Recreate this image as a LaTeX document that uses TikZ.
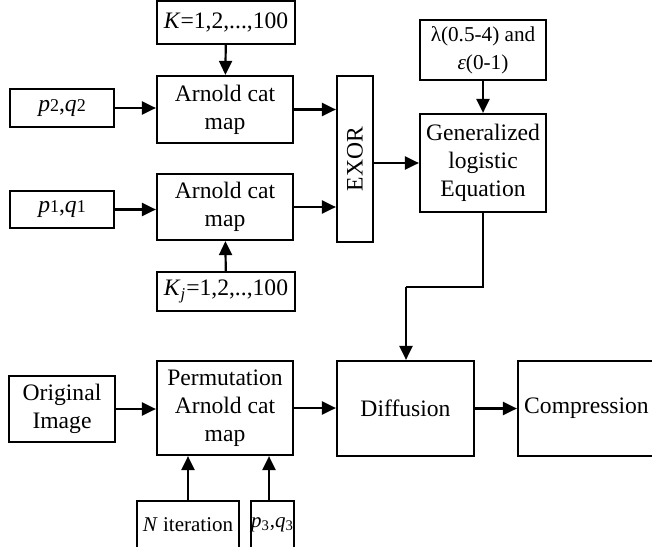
\documentclass[tikz,border=0pt]{standalone}
\usepackage{fontspec}
\setmainfont{Liberation Serif}
\usetikzlibrary{arrows.meta}
\begin{document}
\begin{tikzpicture}[x=0.5pt,y=-0.5pt,
  box/.style={draw,line width=1.1pt,inner sep=0pt,align=center,font=\fontsize{11.8}{14}\selectfont},
  arr/.style={line width=1.1pt,-{Triangle[length=7pt,width=6.5pt]}},
  ln/.style={line width=1.1pt}]
\useasboundingbox (0,0) rectangle (652,546);
\clip (0,0) rectangle (652,546);
\node[box,minimum width=69pt,minimum height=21.5pt] (K) at (226,22.5) {\textit{K}=1,2,...,100};
\node[box,minimum width=68pt,minimum height=33.5pt] (A2) at (225,109.5) {Arnold cat\\map};
\node[box,minimum width=52pt,minimum height=19pt] (p2) at (62,108) {\textit{p}{\fontsize{9}{9}\selectfont 2},\textit{q}{\fontsize{9}{9}\selectfont 2}};
\node[box,minimum width=68pt,minimum height=33pt] (A1) at (225,207) {Arnold cat\\map};
\node[box,minimum width=52pt,minimum height=18.5pt] (p1) at (62,209.5) {\textit{p}{\fontsize{9}{9}\selectfont 1},\textit{q}{\fontsize{9}{9}\selectfont 1}};
\node[box,minimum width=69pt,minimum height=19.5pt] (Kj) at (226,291.5) {\textit{K}\textsubscript{\textit{j}}=1,2,..,100};
\node[box,minimum width=18pt,minimum height=83pt] (EX) at (355,159) {};
\node[font=\fontsize{11.8}{14}\selectfont,rotate=90] (EXt) at (EX.center) {EXOR};
\node[box,minimum width=63pt,minimum height=30pt,font=\fontsize{10.6}{14}\selectfont] (lam) at (483,50) {λ(0.5-4) and\\\textit{ε}(0-1)};
\node[box,minimum width=63pt,minimum height=49pt] (Gen) at (483,163) {Generalized\\logistic\\Equation};
\node[box,minimum width=53pt,minimum height=33pt] (Orig) at (62,409) {Original\\Image};
\node[box,minimum width=68pt,minimum height=47pt] (Perm) at (225,408) {Permutation\\Arnold cat\\map};
\node[box,minimum width=68.5pt,minimum height=47.5pt] (Diff) at (405.5,408.5) {Diffusion};
\node[box,minimum width=68.5pt,minimum height=47.5pt] (Comp) at (586.5,408.5) {Compression};
\node[box,minimum width=51pt,minimum height=23.5pt,font=\fontsize{10.5}{12}\selectfont] (Nit) at (188,524.5) {\textit{N} iteration};
\node[box,minimum width=21.5pt,minimum height=23.5pt,font=\fontsize{10.5}{12}\selectfont] (p3) at (272.5,524.5) {\textit{p}\textsubscript{3},\textit{q}\textsubscript{3}};
\coordinate (g1) at (483,287);
\coordinate (g2) at (406,287);
\draw[arr] (K) -- (A2);
\draw[arr] (Kj) -- (A1);
\draw[arr] (p2.east) -- (p2.east -| A2.west);
\draw[arr] (p1.east) -- (p1.east -| A1.west);
\draw[arr] (A2.east) -- (A2.east -| EX.west);
\draw[arr] (A1.east) -- (A1.east -| EX.west);
\draw[arr] (EX.east |- Gen.west) -- (Gen.west);
\draw[arr] (lam) -- (Gen);
\draw[ln] (Gen.south) -- (g1) -- (g2);
\draw[arr] (g2) -- (g2 |- Diff.north);
\draw[arr] (Orig.east) -- (Orig.east -| Perm.west);
\draw[arr] (Perm.east) -- (Perm.east -| Diff.west);
\draw[arr] (Diff.east) -- (Diff.east -| Comp.west);
\draw[arr] (Nit.north) -- (Nit.north |- Perm.south);
\draw[arr] ([xshift=-1.75pt]p3.north) -- ([xshift=-1.75pt]p3.north |- Perm.south);
\end{tikzpicture}
\end{document}
